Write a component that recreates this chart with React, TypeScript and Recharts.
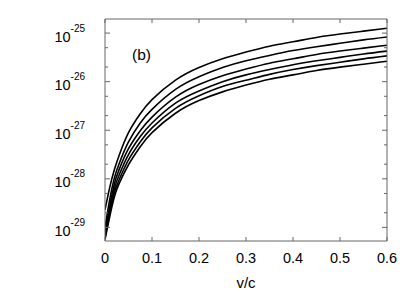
import React from 'react';
import { LineChart, Line, XAxis, YAxis } from 'recharts';

// v/c sample points
const vOverC = [0, 0.01, 0.02, 0.03, 0.05, 0.075, 0.1, 0.15, 0.2, 0.25, 0.3, 0.35, 0.4, 0.45, 0.5, 0.55, 0.6];

// log10 of the plotted quantity (top curve first)
const curve1 = [-28.64, -28.18, -27.81, -27.52, -27.05, -26.66, -26.37, -25.97, -25.71, -25.53, -25.39, -25.27, -25.18, -25.09, -25.02, -24.96, -24.90];
const curve2 = [-29.01, -28.43, -27.98, -27.69, -27.24, -26.85, -26.57, -26.16, -25.90, -25.71, -25.57, -25.46, -25.36, -25.28, -25.21, -25.14, -25.08];
const curve3 = [-29.13, -28.57, -28.10, -27.81, -27.38, -27.01, -26.73, -26.32, -26.06, -25.88, -25.74, -25.62, -25.53, -25.44, -25.37, -25.31, -25.25];
const curve4 = [-29.17, -28.66, -28.20, -27.92, -27.50, -27.13, -26.85, -26.44, -26.19, -26.00, -25.86, -25.75, -25.65, -25.57, -25.50, -25.43, -25.37];
const curve5 = [-29.21, -28.72, -28.29, -28.02, -27.61, -27.24, -26.95, -26.55, -26.29, -26.10, -25.97, -25.85, -25.75, -25.67, -25.60, -25.53, -25.47];
const curve6 = [-29.25, -28.78, -28.37, -28.10, -27.71, -27.34, -27.05, -26.65, -26.39, -26.21, -26.07, -25.95, -25.86, -25.77, -25.70, -25.64, -25.58];

const xTicks = [0, 0.1, 0.2, 0.3, 0.4, 0.5, 0.6];
const decades = [-29, -28, -27, -26, -25];

const series = [curve1, curve2, curve3, curve4, curve5, curve6];
const data = vOverC.map((v, i) => {
  const row: Record<string, number> = { v };
  series.forEach((s, k) => (row['s' + k] = s[i]));
  return row;
});

// majors plus minor tics at 2x and 5x of each decade
const yTicks: number[] = [];
[-30, ...decades].forEach((d) => {
  yTicks.push(d, d + Math.log10(2), d + Math.log10(5));
});
const yDomain = [-29.28, -24.71];
const visibleYTicks = yTicks.filter((t) => t >= yDomain[0] && t <= yDomain[1]);

const FONT = '"Liberation Sans", Arial, Helvetica, sans-serif';
const FRAME = '#666';

const LeftTick = (props: any) => {
  const { x, y, payload } = props;
  const major = Number.isInteger(payload.value);
  return (
    <g>
      <line x1={x} y1={y} x2={x + (major ? 5 : 3)} y2={y} stroke={FRAME} />
      {major && (
        <text x={x - 20} y={y + 8.5} textAnchor="end" fontSize={14.5} fontFamily={FONT} fill="#000">
          10<tspan dy={-10} fontSize={10}>{payload.value}</tspan>
        </text>
      )}
    </g>
  );
};

const RightTick = (props: any) => {
  const { x, y, payload } = props;
  const major = Number.isInteger(payload.value);
  return <line x1={x - (major ? 5 : 3)} y1={y} x2={x} y2={y} stroke={FRAME} />;
};

const BottomTick = (props: any) => {
  const { x, y, payload } = props;
  return (
    <g>
      <line x1={x} y1={y - 4} x2={x} y2={y} stroke={FRAME} />
      <text x={x} y={y + 22} textAnchor="middle" fontSize={14.5} fontFamily={FONT} fill="#000">
        {payload.value === 0 ? '0' : String(payload.value)}
      </text>
    </g>
  );
};

const TopTick = (props: any) => {
  const { x, y } = props;
  return <line x1={x} y1={y} x2={x} y2={y + 4} stroke={FRAME} />;
};

export default function App() {
  return (
    <div style={{ position: 'absolute', left: 0, top: 0, width: 415, height: 291, background: '#fff' }}>
      <LineChart width={415} height={291} data={data} margin={{ top: 18, right: 27, bottom: 0, left: 10 }}>
        <XAxis
          dataKey="v"
          type="number"
          domain={[0, 0.6]}
          ticks={xTicks}
          interval={0}
          height={50}
          tickSize={0}
          tickMargin={0}
          tick={BottomTick}
          axisLine={{ stroke: FRAME }}
          allowDataOverflow
          label={{ value: 'v/c', position: 'insideBottom', offset: 3, fontSize: 15, fontFamily: FONT, fill: '#000' }}
        />
        <XAxis
          xAxisId="top"
          orientation="top"
          dataKey="v"
          type="number"
          domain={[0, 0.6]}
          ticks={xTicks}
          interval={0}
          height={1}
          tickSize={0}
          tickMargin={0}
          tick={TopTick}
          axisLine={{ stroke: FRAME }}
          allowDataOverflow
        />
        <YAxis
          type="number"
          domain={yDomain}
          ticks={visibleYTicks}
          interval={0}
          width={95}
          tickSize={0}
          tickMargin={0}
          tick={LeftTick}
          axisLine={{ stroke: FRAME }}
          allowDataOverflow
        />
        <YAxis
          yAxisId="right"
          orientation="right"
          type="number"
          domain={yDomain}
          ticks={visibleYTicks}
          interval={0}
          width={1}
          tickSize={0}
          tickMargin={0}
          tick={RightTick}
          axisLine={{ stroke: FRAME }}
          allowDataOverflow
        />
        {series.map((_, k) => (
          <Line
            key={k}
            dataKey={'s' + k}
            type="natural"
            stroke="#000"
            strokeWidth={1.6}
            dot={false}
            isAnimationActive={false}
          />
        ))}
      </LineChart>
      <div
        style={{
          position: 'absolute',
          left: 132,
          top: 47,
          fontFamily: FONT,
          fontSize: 15.5,
          lineHeight: '16px',
          color: '#000',
        }}
      >
        (b)
      </div>
    </div>
  );
}
